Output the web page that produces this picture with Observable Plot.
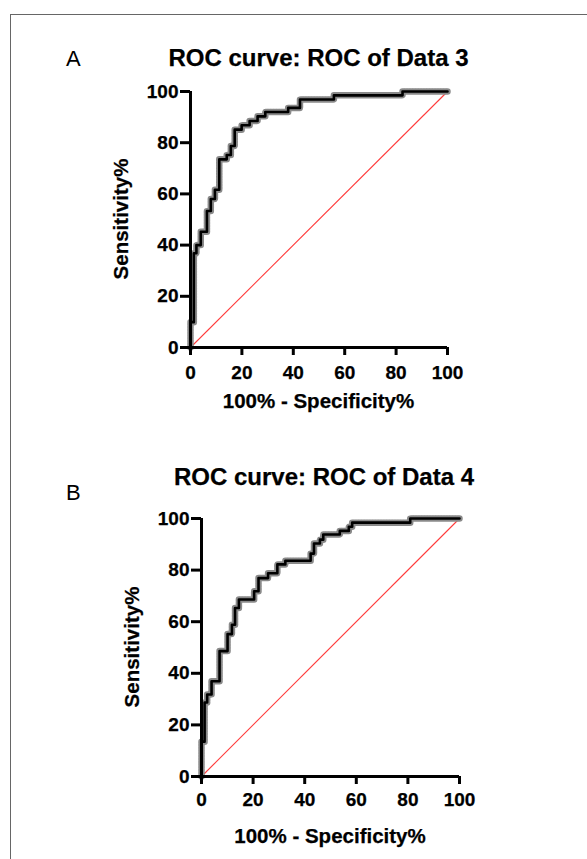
<!DOCTYPE html>
<html>
<head>
<meta charset="utf-8">
<script src="https://cdn.jsdelivr.net/npm/d3@7"></script>
<script src="https://cdn.jsdelivr.net/npm/@observablehq/plot@0.6"></script>
<style>
  html, body { margin: 0; padding: 0; background: #fff; }
  #page { position: relative; width: 587px; height: 859px; overflow: hidden; background: #fff;
          font-family: "Liberation Sans", Arial, Helvetica, sans-serif; color: #000; }
  #frame { position: absolute; left: 9.5px; top: 14px; width: 700px; height: 1000px;
           border: 1.5px solid #666; box-sizing: border-box; }
  .t { position: absolute; line-height: 1; white-space: nowrap; }
  .b { font-weight: bold; -webkit-text-stroke: 0.25px #000; }
  .panel { position: absolute; left: 0; }
  .panel svg { overflow: visible; }
  .panel svg text { stroke: #000; stroke-width: 0.25px; }
</style>
</head>
<body>
<div id="page">
  <div id="frame"></div>
  <div class="t" style="left:66px; top:48px; font-size:22px;">A</div>
  <div class="t b" id="titleA" style="left:318.5px; top:46px; font-size:24px; transform:translateX(-50%);"></div>
  <div class="t b" id="ylabA" style="left:121px; top:219px; font-size:20.5px; transform:translate(-50%,-50%) rotate(-90deg);"></div>
  <div class="t b" id="xlabA" style="left:318.5px; top:391px; font-size:20.5px; transform:translateX(-50%);"></div>
  <div class="panel" id="panelA" style="top:0px;"></div>

  <div class="t" style="left:66px; top:482px; font-size:22px;">B</div>
  <div class="t b" id="titleB" style="left:324px; top:465px; font-size:24px; transform:translateX(-50%);"></div>
  <div class="t b" id="ylabB" style="left:132px; top:647px; font-size:20.5px; transform:translate(-50%,-50%) rotate(-90deg);"></div>
  <div class="t b" id="xlabB" style="left:330px; top:826px; font-size:20.5px; transform:translateX(-50%);"></div>
  <div class="panel" id="panelB" style="top:430px;"></div>
</div>
<script>
// ---- Data ----
const titleA = "ROC curve: ROC of Data 3";
const titleB = "ROC curve: ROC of Data 4";
const xLabel = "100% - Specificity%";
const yLabel = "Sensitivity%";
const tickValues = [0, 20, 40, 60, 80, 100];

// Panel A: 100% - specificity at each vertical jump, and sensitivity reached
const fprA = [0, 0, 1.3, 2.3, 4.0, 6.4, 7.9, 9.5, 11.2, 14.1, 15.7, 17.2, 19.9, 23.0, 26.1, 29.1, 38.0, 42.6, 55.8, 82.5, 100];
const tprA = [0, 9.9, 36.8, 40.0, 45.2, 53.3, 58.0, 61.6, 73.5, 75.2, 78.7, 85.1, 86.8, 88.5, 90.3, 92.0, 93.6, 96.9, 98.5, 100, 100];

// Panel B
const fprB = [0, 0, 1.2, 2.2, 3.9, 7.0, 10.1, 11.8, 13.0, 14.5, 20.4, 22.1, 25.8, 29.4, 32.5, 42.3, 43.6, 45.9, 47.2, 53.6, 57.1, 58.4, 80.9, 100];
const tprB = [0, 13.5, 28.7, 31.8, 36.9, 48.6, 55.2, 58.8, 65.3, 68.6, 71.8, 76.9, 78.8, 82.2, 83.6, 86.4, 90.3, 91.8, 93.8, 95.2, 96.8, 98.4, 100, 100];

// Chance line
const chance = [{x1: 0, y1: 0, x2: 100, y2: 100}];

// ---- Drawing ----
function rocPlot(fpr, tpr, geom) {
  const pts = fpr.map((x, i) => ({x, y: tpr[i]}));
  return Plot.plot({
    width: 587,
    height: geom.height,
    marginLeft: geom.ml, marginRight: geom.mr, marginTop: geom.mt, marginBottom: geom.mb,
    x: {domain: [0, 100]},
    y: {domain: [0, 100]},
    style: {fontFamily: '"Liberation Sans", Arial, sans-serif', fontSize: "19px", fontWeight: "bold",
            color: "#000", background: "transparent", overflow: "visible"},
    marks: [
      Plot.link(chance, {x1: "x1", y1: "y1", x2: "x2", y2: "y2", stroke: "#ff3b3b", strokeWidth: 1.1}),
      Plot.line(pts, {x: "x", y: "y", curve: "step-after", stroke: "#8a8a8a", strokeWidth: 6.5, strokeDasharray: "1.6,1.2"}),
      Plot.line(pts, {x: "x", y: "y", curve: "step-after", stroke: "#000", strokeWidth: 2.6}),
      Plot.axisX({ticks: tickValues, tickSize: 8, tickPadding: geom.xpad, strokeWidth: 3, label: null,
                  fontSize: 19, fontWeight: "bold"}),
      Plot.axisY({ticks: tickValues, tickSize: 10, tickPadding: 2, strokeWidth: 3, label: null,
                  fontSize: 19, fontWeight: "bold"}),
      Plot.ruleX([0], {stroke: "#000", strokeWidth: 3}),
      Plot.ruleY([0], {stroke: "#000", strokeWidth: 3})
    ]
  });
}

document.getElementById("titleA").textContent = titleA;
document.getElementById("titleB").textContent = titleB;
document.getElementById("xlabA").textContent = xLabel;
document.getElementById("xlabB").textContent = xLabel;
document.getElementById("ylabA").textContent = yLabel;
document.getElementById("ylabB").textContent = yLabel;

document.getElementById("panelA").append(rocPlot(fprA, tprA, {height: 390, ml: 190, mr: 140, mt: 91, mb: 43, xpad: 10}));
document.getElementById("panelB").append(rocPlot(fprB, tprB, {height: 380, ml: 201, mr: 128, mt: 88, mb: 34, xpad: 8}));
</script>
</body>
</html>
